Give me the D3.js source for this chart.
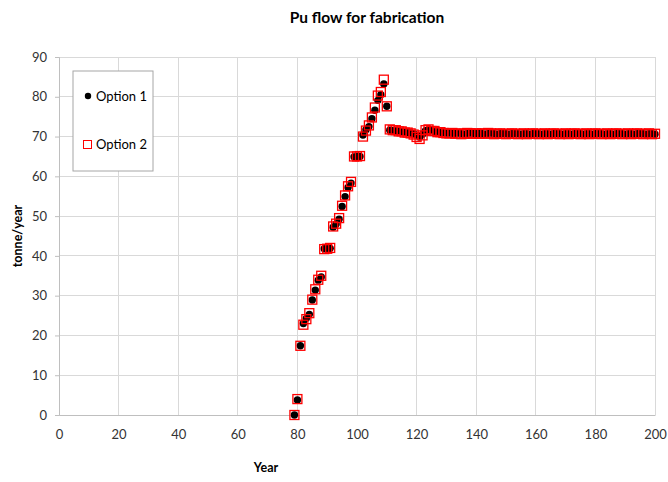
<!DOCTYPE html>
<html><head><meta charset="utf-8">
<script src="https://cdn.jsdelivr.net/npm/d3@7"></script>
<style>
body{margin:0;background:#fff;}
svg{display:block;font-family:Lato,"Open Sans",sans-serif;}
</style></head>
<body><div id="chart"></div>
<script>
const title = "Pu flow for fabrication";
const xLabel = "Year";
const yLabel = "tonne/year";
const xTicks = [0,20,40,60,80,100,120,140,160,180,200];
const yTicks = [0,10,20,30,40,50,60,70,80,90];
const seriesNames = ["Option 1","Option 2"];
const years = d3.range(79, 201);
const option1 = [
 0,3.8,17.4,23.0,24.3,25.3,28.9,31.4,33.9,34.7,
 41.8,41.8,41.9,47.2,48.0,49.2,52.4,54.9,57.2,58.3,
 64.9,65.0,65.0,70.4,71.7,72.5,74.5,76.6,79.1,80.5,
 83.2,77.6,71.6,71.5,71.5,71.4,71.2,71.1,71.0,70.9,
 70.7,70.3,69.9,70.6,71.5,71.7,71.5,71.3,71.2,71.1,
 71.0,70.9,
 70.9,70.8,70.8,70.9,70.7,70.6,70.8,70.9,70.8,70.7,
 70.8,70.7,70.6,70.8,70.9,70.7,70.6,70.7,70.8,70.7,
 70.6,70.7,70.8,70.7,70.6,70.7,70.7,70.6,70.7,70.8,
 70.7,70.6,70.7,70.7,70.6,70.7,70.8,70.7,70.6,70.7,
 70.7,70.6,70.7,70.8,70.7,70.6,70.7,70.7,70.6,70.7,
 70.8,70.7,70.6,70.7,70.7,70.6,70.7,70.8,70.7,70.6,
 70.7,70.7,70.6,70.7,70.8,70.7,70.6,70.7,70.7,70.6
];
const option2 = [
 0,4.0,17.4,22.7,24.1,25.6,29.0,31.6,34.0,35.0,
 41.7,41.8,42.0,47.4,48.1,49.5,52.6,55.2,57.5,58.6,
 65.0,65.0,65.1,70.0,71.5,72.8,74.8,77.3,80.3,81.2,
 84.3,77.6,71.8,71.6,71.6,71.3,71.3,71.0,71.0,70.8,
 70.5,69.9,69.4,70.3,71.6,71.8,71.4,71.4,71.1,71.1,
 70.9,70.8,
 70.8,70.9,70.7,70.8,70.6,70.7,70.9,70.8,70.7,70.8,
 70.7,70.8,70.7,70.9,70.8,70.6,70.7,70.8,70.7,70.6,
 70.7,70.8,70.7,70.6,70.7,70.8,70.6,70.7,70.8,70.7,
 70.6,70.7,70.8,70.6,70.7,70.8,70.7,70.6,70.7,70.8,
 70.6,70.7,70.8,70.7,70.6,70.7,70.8,70.6,70.7,70.8,
 70.7,70.6,70.7,70.8,70.6,70.7,70.8,70.7,70.6,70.7,
 70.8,70.6,70.7,70.8,70.7,70.6,70.7,70.8,70.6,70.7
];

const W = 668, H = 482;
const m = {left:59, right:13, top:57, bottom:67};
const svg = d3.select("#chart").append("svg").attr("width",W).attr("height",H);
const x = d3.scaleLinear().domain([0,200]).range([m.left, W-m.right]);
const y = d3.scaleLinear().domain([0,90]).range([H-m.bottom, m.top]);

// gridlines
svg.append("g").selectAll("line.v").data(xTicks).join("line")
  .attr("x1",d=>x(d)).attr("x2",d=>x(d)).attr("y1",y(0)).attr("y2",y(90))
  .attr("stroke","#d9d9d9").attr("stroke-width",1).attr("shape-rendering","crispEdges");
svg.append("g").selectAll("line.h").data(yTicks).join("line")
  .attr("x1",x(0)).attr("x2",x(200)).attr("y1",d=>y(d)).attr("y2",d=>y(d))
  .attr("stroke","#d9d9d9").attr("stroke-width",1).attr("shape-rendering","crispEdges");

// axes
const yAxis = svg.append("g").attr("transform",`translate(${x(0)},0)`)
  .call(d3.axisLeft(y).tickValues(yTicks).tickSize(4).tickPadding(8));
yAxis.selectAll("path,line").attr("stroke","#bfbfbf");
yAxis.selectAll("text").attr("font-family","Lato").attr("font-size",13).attr("fill","#333");
const xAxis = svg.append("g").attr("transform",`translate(0,${y(0)})`)
  .call(d3.axisBottom(x).tickValues(xTicks).tickSize(0).tickPadding(15));
xAxis.select("path").attr("stroke","#bfbfbf");
xAxis.selectAll("text").attr("font-family","Lato").attr("font-size",13).attr("fill","#333");

// data
const d1 = years.map((yr,i)=>({x:yr,v:option1[i]}));
const d2 = years.map((yr,i)=>({x:yr,v:option2[i]}));
svg.append("g").selectAll("circle").data(d1).join("circle")
  .attr("cx",d=>x(d.x)).attr("cy",d=>y(d.v)).attr("r",3.7).attr("fill","#000");
const s = 9;
svg.append("g").selectAll("rect").data(d2).join("rect")
  .attr("x",d=>x(d.x)-s/2).attr("y",d=>y(d.v)-s/2).attr("width",s).attr("height",s)
  .attr("fill","none").attr("stroke","#ff0000").attr("stroke-width",1.3);

// title & labels
svg.append("text").attr("x",367).attr("y",23).attr("text-anchor","middle")
  .attr("font-family","Lato").attr("font-weight","bold").attr("font-size",15.5).attr("fill","#000").text(title);
svg.append("text").attr("x",266).attr("y",472).attr("text-anchor","middle")
  .attr("font-family","Lato").attr("font-weight","bold").attr("font-size",12.5).attr("fill","#000").text(xLabel);
svg.append("text").attr("transform","translate(22,236) rotate(-90)").attr("text-anchor","middle")
  .attr("font-family","Lato").attr("font-weight","bold").attr("font-size",12.5).attr("fill","#000").text(yLabel);

// legend
const lg = svg.append("g");
lg.append("rect").attr("x",73).attr("y",71).attr("width",80).attr("height",100)
  .attr("fill","#fff").attr("stroke","#a6a6a6").attr("stroke-width",1);
lg.append("circle").attr("cx",88).attr("cy",96).attr("r",3.2).attr("fill","#000");
lg.append("rect").attr("x",83.5).attr("y",140.5).attr("width",8).attr("height",8)
  .attr("fill","none").attr("stroke","#ff0000").attr("stroke-width",1);
lg.append("text").attr("x",96).attr("y",100.5).attr("font-family","Lato").attr("font-size",13)
  .attr("fill","#000").text(seriesNames[0]);
lg.append("text").attr("x",96).attr("y",149).attr("font-family","Lato").attr("font-size",13)
  .attr("fill","#000").text(seriesNames[1]);
</script></body></html>
